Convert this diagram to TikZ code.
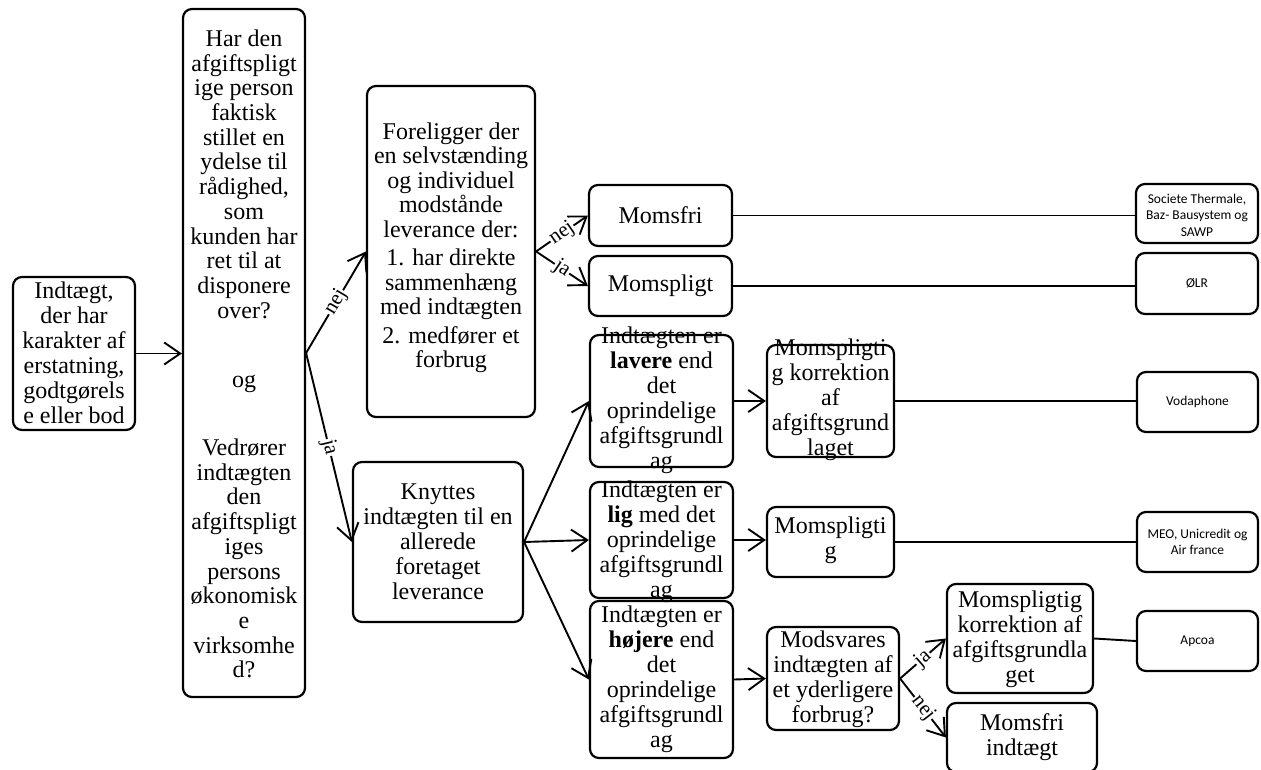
\documentclass[tikz,border=0pt]{standalone}
\usepackage{fontspec}
\setmainfont{Liberation Serif}
\newfontfamily\calfont{Carlito}
\usetikzlibrary{arrows.meta}
\begin{document}
\begin{tikzpicture}[x=1pt,y=-1pt,
  box/.style={draw, line width=2.2pt, rounded corners=9pt, inner sep=0pt},
  txt/.style={align=center, inner sep=0pt, font=\fontsize{24}{25}\selectfont},
  small/.style={align=center, inner sep=0pt, font=\calfont\fontsize{13.5}{16.5}\selectfont},
  conn/.style={line width=1.9pt},
  arr/.style={conn, -{Straight Barb[length=16pt,width=22pt]}},
  lab/.style={midway, sloped, fill=white, inner sep=1pt, font=\fontsize{21}{21}\selectfont}
]
\useasboundingbox (0,0) rectangle (1261,769);
\clip (0,0) rectangle (1261,769);

% boxes
\node[box, minimum width=122pt, minimum height=153pt] (a) at (74,353.5) {};
\node[box, minimum width=122pt, minimum height=688pt] (b) at (244,353) {};
\node[box, minimum width=168pt, minimum height=331pt] (c) at (451,251.5) {};
\node[box, minimum width=170pt, minimum height=160pt] (d) at (438,542) {};
\node[box, minimum width=143pt, minimum height=61pt] (mf) at (660.5,215.5) {};
\node[box, minimum width=143pt, minimum height=60pt] (mp) at (660.5,286) {};
\node[box, minimum width=143pt, minimum height=132pt] (e1) at (661.5,401) {};
\node[box, minimum width=143pt, minimum height=116pt] (e2) at (661.5,540) {};
\node[box, minimum width=143pt, minimum height=157pt] (e3) at (661.5,679.5) {};
\node[box, minimum width=127pt, minimum height=112pt] (f1) at (830.5,401) {};
\node[box, minimum width=127pt, minimum height=70pt] (f2) at (830.5,542) {};
\node[box, minimum width=132pt, minimum height=103pt] (g) at (833,678.5) {};
\node[box, minimum width=146pt, minimum height=109pt] (h) at (1020,638.5) {};
\node[box, minimum width=150pt, minimum height=69pt] (i) at (1022,737.5) {};
\node[box, minimum width=122pt, minimum height=59pt] (s1) at (1197,213.5) {};
\node[box, minimum width=122pt, minimum height=61pt] (s2) at (1197,283.5) {};
\node[box, minimum width=121pt, minimum height=60pt] (s3) at (1197.5,402) {};
\node[box, minimum width=121pt, minimum height=60pt] (s4) at (1197.5,542) {};
\node[box, minimum width=121pt, minimum height=60pt] (s5) at (1197.5,641) {};

% texts
\node[txt] (ta) at (74,353) {Indtægt,\\der har\\karakter af\\erstatning,\\godtgørels\\e eller bod};
\node[txt, font=\fontsize{24}{24.7}\selectfont] (tb) at (244,354) {Har den\\afgiftspligt\\ige person\\faktisk\\stillet en\\ydelse til\\rådighed,\\som\\kunden har\\ret til at\\disponere\\over?\\[45pt]og\\[43pt]Vedrører\\indtægten\\den\\afgiftspligt\\iges\\persons\\økonomisk\\e\\virksomhe\\d?};
\node[txt, font=\fontsize{24}{24.5}\selectfont] (tc) at (451,248) {Foreligger der\\en selvstænding\\og individuel\\modstånde\\leverance der:\\[4pt]1. har direkte\\sammenhæng\\med indtægten\\[4pt]2. medfører et\\forbrug};
\node[txt] (td) at (438,542) {Knyttes\\indtægten til en\\allerede\\foretaget\\leverance};
\node[txt] (tmf) at (660.5,215.5) {Momsfri};
\node[txt] (tmp) at (660.5,286) {Momspligt};
\node[txt] (te1) at (661.5,400) {Indtægten er\\\textbf{lavere} end\\det\\oprindelige\\afgiftsgrundl\\ag};
\node[txt] (te2) at (661.5,542) {Indtægten er\\\textbf{lig} med det\\oprindelige\\afgiftsgrundl\\ag};
\node[txt] (te3) at (661.5,679.5) {Indtægten er\\\textbf{højere} end\\det\\oprindelige\\afgiftsgrundl\\ag};
\node[txt] (tf1) at (830.5,400) {Momspligti\\g korrektion\\af\\afgiftsgrund\\laget};
\node[txt] (tf2) at (830.5,540.5) {Momspligti\\g};
\node[txt] (tg) at (833,679.5) {Modsvares\\indtægten af\\et yderligere\\forbrug?};
\node[txt] (th) at (1020,639.5) {Momspligtig\\korrektion af\\afgiftsgrundla\\get};
\node[txt] (ti) at (1022,737.5) {Momsfri\\indtægt};
\node[small] (ts1) at (1197,215) {Societe Thermale,\\Baz- Bausystem og\\SAWP};
\node[small] (ts2) at (1197,283.5) {ØLR};
\node[small] (ts3) at (1197.5,402) {Vodaphone};
\node[small] (ts4) at (1197.5,542) {MEO, Unicredit og\\Air france};
\node[small] (ts5) at (1197.5,641) {Apcoa};

% connectors
\draw[arr] (a.east) -- (a.east -| b.west);
\draw[arr] (b.east) -- (c.west) node[lab] {nej};
\draw[arr] (b.east) -- (d.west) node[lab] {ja};
\draw[arr] (c.east) -- (mf.west) node[lab] {nej};
\draw[arr] (c.east) -- (mp.west) node[lab] {ja};
\draw[arr] (d.east) -- (e1.west);
\draw[arr] (d.east) -- (e2.west);
\draw[arr] (d.east) -- (e3.west);
\draw[arr] (e1.east) -- (e1.east -| f1.west);
\draw[arr] (e2.east) -- (e2.east -| f2.west);
\draw[arr] (e3.east) -- (g.west);
\draw[arr] (g.east) -- (h.west) node[lab] {ja};
\draw[arr] (g.east) -- (i.west) node[lab] {nej};
\draw[conn] (mf.east) -- (mf.east -| s1.west);
\draw[conn] (mp.east) -- (mp.east -| s2.west);
\draw[conn] (f1.east) -- (f1.east -| s3.west);
\draw[conn] (f2.east) -- (f2.east -| s4.west);
\draw[conn] (h.east) -- (s5.west);
\end{tikzpicture}
\end{document}
